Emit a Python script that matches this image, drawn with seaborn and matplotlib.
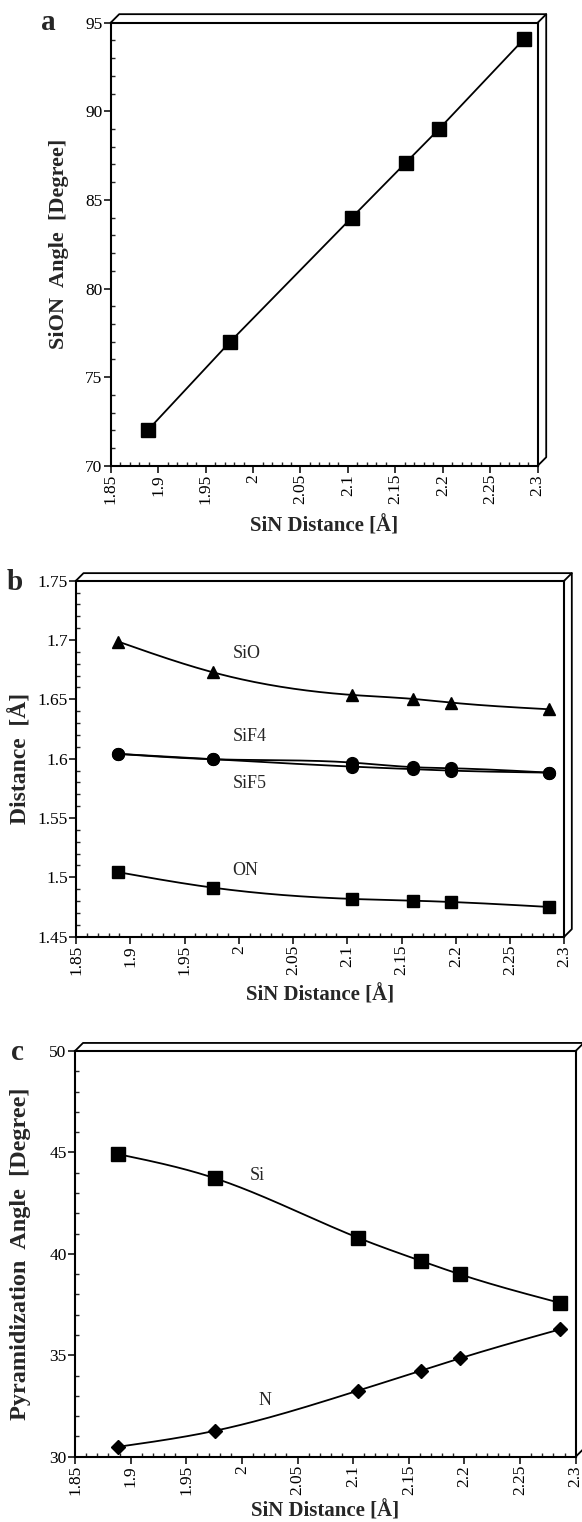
import numpy as np
import matplotlib
matplotlib.use("Agg")
import matplotlib.pyplot as plt
import matplotlib.ticker as mticker
import seaborn as sns

# ── Data ──────────────────────────────────────────────────────────────────────
sin_distance = [1.889, 1.976, 2.104, 2.161, 2.196, 2.286]

sion_angle = [72.0, 77.0, 84.0, 87.1, 89.0, 94.1]

dist_sio = [1.6986, 1.6728, 1.6537, 1.6503, 1.6472, 1.6416]
dist_sif4 = [1.6040, 1.5995, 1.5967, 1.5928, 1.5919, 1.5882]
dist_sif5 = [1.6040, 1.5995, 1.5933, 1.5911, 1.5899, 1.5882]
dist_on = [1.5043, 1.4913, 1.4818, 1.4803, 1.4792, 1.4750]

pyr_si = [44.91, 43.72, 40.80, 39.65, 38.99, 37.58]
pyr_n = [30.49, 31.28, 33.25, 34.24, 34.85, 36.28]

# ── Styling ──────────────────────────────────────────────────────────────────
sns.set_theme(style="ticks")
plt.rcParams["font.family"] = ["Liberation Serif", "DejaVu Serif"]

W, H, DPI = 582, 1522, 100
TICK_FS = 12.5
LABEL_FS = 16


def smooth(x, y, n=200):
    """Natural cubic spline through the points, used only to draw the curve."""
    x = np.asarray(x, float)
    y = np.asarray(y, float)
    k = len(x)
    h = np.diff(x)
    A = np.zeros((k, k))
    r = np.zeros(k)
    A[0, 0] = A[-1, -1] = 1.0
    for i in range(1, k - 1):
        A[i, i - 1] = h[i - 1]
        A[i, i] = 2 * (h[i - 1] + h[i])
        A[i, i + 1] = h[i]
        r[i] = 6 * ((y[i + 1] - y[i]) / h[i] - (y[i] - y[i - 1]) / h[i - 1])
    m = np.linalg.solve(A, r)
    xs = np.linspace(x[0], x[-1], n)
    idx = np.clip(np.searchsorted(x, xs) - 1, 0, k - 2)
    x0, x1 = x[idx], x[idx + 1]
    hh = x1 - x0
    t0, t1 = x1 - xs, xs - x0
    ys = (m[idx] * t0**3 / (6 * hh) + m[idx + 1] * t1**3 / (6 * hh)
          + (y[idx] / hh - m[idx] * hh / 6) * t0
          + (y[idx + 1] / hh - m[idx + 1] * hh / 6) * t1)
    return xs, ys


def series(ax, y, marker, ms, curved=True):
    if curved:
        xs, ys = smooth(sin_distance, y)
    else:
        xs, ys = sin_distance, y
    sns.lineplot(x=xs, y=ys, ax=ax, color="black", linewidth=1.3,
                 sort=False, estimator=None)
    ax.plot(sin_distance, y, linestyle="none", marker=marker, ms=ms,
            color="black", mec="black")


def frame(ax, ylim, major, minor, ylabel, dpx=8, ylabel_fs=LABEL_FS):
    ax.set_xlim(1.85, 2.3)
    ax.set_ylim(*ylim)
    ax.xaxis.set_major_locator(mticker.MultipleLocator(0.05))
    ax.xaxis.set_minor_locator(mticker.MultipleLocator(0.01))
    ax.yaxis.set_major_locator(mticker.MultipleLocator(major))
    ax.yaxis.set_minor_locator(mticker.MultipleLocator(minor))
    fmt = mticker.FuncFormatter(lambda v, _: f"{v:g}")
    ax.xaxis.set_major_formatter(fmt)
    ax.yaxis.set_major_formatter(fmt)
    ax.tick_params(which="major", direction="out", length=5, width=1.1,
                   labelsize=TICK_FS, pad=1, colors="black")
    ax.tick_params(which="minor", direction="in", length=3, width=1.0)
    ax.tick_params(axis="x", labelrotation=90)
    for s in ax.spines.values():
        s.set_linewidth(1.5)
        s.set_color("black")
    ax.set_xlabel("SiN Distance [Å]", fontsize=LABEL_FS - 1, fontweight="bold")
    ax.set_ylabel(ylabel, fontsize=ylabel_fs, fontweight="bold")

    # 3-D look: a lid on top and a slab on the right
    pos = ax.get_position()
    dx = dpx / (pos.width * W)
    dy = dpx / (pos.height * H)
    kw = dict(transform=ax.transAxes, clip_on=False, color="black", lw=1.3)
    ax.plot([0, dx, 1 + dx, 1 + dx, 1], [1, 1 + dy, 1 + dy, dy, 0], **kw)
    ax.plot([1, 1 + dx], [1, 1 + dy], **kw)


def place_labels(ax, ylab_px, xlab_px):
    """Put the y label centre at x pixel ylab_px and the x label centre at
    y pixel xlab_px (both measured from the figure's top-left)."""
    pos = ax.get_position()
    left, top = pos.x0 * W, (1 - pos.y1) * H
    wpx, hpx = pos.width * W, pos.height * H
    ax.yaxis.label.set_va("center")
    ax.yaxis.label.set_rotation_mode("anchor")
    ax.yaxis.set_label_coords((ylab_px - left) / wpx, 0.5)
    ax.xaxis.label.set_va("center")
    ax.xaxis.set_label_coords(0.5, 1 - (xlab_px - top) / hpx)


fig = plt.figure(figsize=(W / DPI, H / DPI), dpi=DPI)
fig.patch.set_facecolor("white")

# ── a: SiON angle ────────────────────────────────────────────────────────────
ax_a = fig.add_axes([0.1902, 0.6940, 0.7337, 0.2911])
series(ax_a, sion_angle, "s", 9.5, curved=False)
frame(ax_a, (70, 95), 5, 1, "SiON  Angle  [Degree]", dpx=8.5)
place_labels(ax_a, 59, 526)

# ── b: bond distances ────────────────────────────────────────────────────────
ax_b = fig.add_axes([0.1306, 0.3846, 0.8390, 0.2339])
series(ax_b, dist_sio, "^", 8.5)
series(ax_b, dist_sif4, "o", 8.5)
series(ax_b, dist_sif5, "o", 8.5)
series(ax_b, dist_on, "s", 9)
frame(ax_b, (1.45, 1.75), 0.05, 0.01, "Distance  [Å]", dpx=7.5,
      ylabel_fs=17)
place_labels(ax_b, 20, 995)
for txt, yy in [("SiO", 1.689), ("SiF4", 1.6186), ("SiF5", 1.5793), ("ON", 1.506)]:
    ax_b.text(1.994, yy, txt, fontsize=13, va="center", ha="left")

# ── c: pyramidization angles ─────────────────────────────────────────────────
ax_c = fig.add_axes([0.1289, 0.0429, 0.8603, 0.2666])
series(ax_c, pyr_si, "s", 9.5)
series(ax_c, pyr_n, "D", 7)
frame(ax_c, (30, 50), 5, 1, "Pyramidization  Angle  [Degree]", dpx=8,
      ylabel_fs=17.5)
place_labels(ax_c, 21, 1511)
ax_c.text(2.007, 43.84, "Si", fontsize=13, va="center", ha="left")
ax_c.text(2.0145, 32.79, "N", fontsize=13, va="center", ha="left")

# panel letters
for letter, xp, yp in [("a", 48, 22), ("b", 15, 583), ("c", 17, 1052)]:
    fig.text(xp / W, 1 - yp / H, letter, fontsize=21, fontweight="bold",
             ha="center", va="center")

fig.savefig("out.png", dpi=DPI, facecolor="white")
